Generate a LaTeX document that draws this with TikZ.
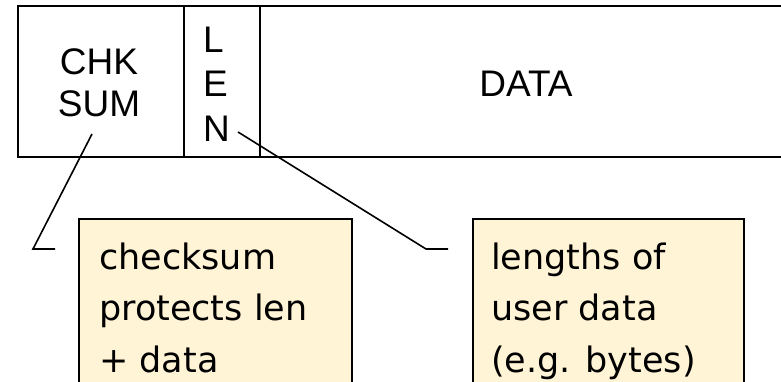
\documentclass[tikz,border=0pt]{standalone}
\usepackage{fontspec}
\setmainfont{Liberation Sans}
\newfontfamily\notefont{DejaVu Sans}
\definecolor{notefill}{RGB}{255,245,214}
\begin{document}
\begin{tikzpicture}[x=1pt,y=-1pt,
  frame/.style={line width=2.2pt},
  lead/.style={line width=1.6pt},
  notebox/.style={draw,line width=2pt,fill=notefill},
  fieldtext/.style={inner sep=0pt,font=\fontsize{37}{42}\selectfont},
  notetext/.style={inner sep=0pt,align=left,font=\notefont\fontsize{35}{51.5}\selectfont}]
\useasboundingbox (0,0) rectangle (781,382);
\clip (0,0) rectangle (781,382);
% packet header: checksum, length, data
\draw[frame] (781,6) -- (18,6) -- (18,157) -- (781,157);
\draw[frame] (184,6) -- (184,157);
\draw[frame] (260,6) -- (260,157);
\node[fieldtext,align=center] (chk) at (99,82.5) {CHK\\SUM};
\node[fieldtext,align=left,anchor=west,font=\fontsize{37}{44.5}\selectfont] (len) at (203,84) {L\\E\\N};
\node[fieldtext] (data) at (526,83.5) {DATA};
% explanation notes
\node[notebox,anchor=north west,minimum width=273,minimum height=200,inner sep=0pt] (cbox) at (78,218) {};
\node[notebox,anchor=north west,minimum width=271,minimum height=200,inner sep=0pt] (lbox) at (472,218) {};
\node[notetext,anchor=north west] (ctext) at (99,242.5) {checksum\\protects len\\+ data};
\node[notetext,anchor=north west] (ltext) at (491,242.5) {lengths of\\user data\\(e.g. bytes)};
% leader lines
\coordinate (c1s) at (92,134);
\coordinate (c1k) at (33,249);
\coordinate (c1e) at (55,249);
\coordinate (c2s) at (238,132);
\coordinate (c2k) at (426,249);
\coordinate (c2e) at (448,249);
\draw[lead] (c1s) -- (c1k) -- (c1e);
\draw[lead] (c2s) -- (c2k) -- (c2e);
\end{tikzpicture}
\end{document}
